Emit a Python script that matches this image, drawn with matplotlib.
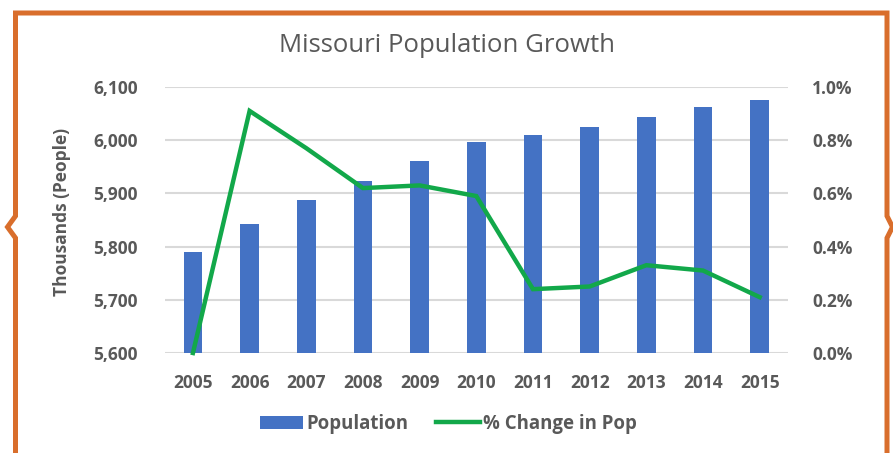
import matplotlib
matplotlib.use("Agg")
import matplotlib.pyplot as plt
from matplotlib.lines import Line2D
from matplotlib.patches import Patch
from matplotlib.ticker import FuncFormatter, FixedLocator

years = ["2005", "2006", "2007", "2008", "2009", "2010",
         "2011", "2012", "2013", "2014", "2015"]
population = [5790, 5842, 5888, 5924, 5961, 5996, 6010, 6024, 6044, 6063, 6076]
pct_change = [0.00, 0.91, 0.77, 0.62, 0.63, 0.59, 0.24, 0.25, 0.33, 0.31, 0.21]
left_ticks = [5600, 5700, 5800, 5900, 6000, 6100]
right_ticks = [0.0, 0.2, 0.4, 0.6, 0.8, 1.0]

BAR = "#4472C4"
GREEN = "#12A84A"
TXT = "#595959"
GRID = "#D9D9D9"
FRAME = "#D96E2C"
FONT = "Open Sans"
TICK_SIZE = 12.5

W, H = 893, 453
fig = plt.figure(figsize=(W / 100, H / 100), dpi=100)
fig.patch.set_facecolor("white")

ax_left, ax_right, ax_top, ax_bottom = 164.6, 788.0, 87.0, 353.0
ax = fig.add_axes([ax_left / W, 1 - ax_bottom / H,
                   (ax_right - ax_left) / W, (ax_bottom - ax_top) / H])
x = list(range(len(years)))
ax.bar(x, population, width=0.33, color=BAR, zorder=2)
ax.set_xlim(-0.5, len(years) - 0.5)
ax.set_ylim(5600, 6100)
ax.yaxis.set_major_locator(FixedLocator(left_ticks))
ax.yaxis.set_major_formatter(FuncFormatter(lambda v, p: f"{int(v):,}"))
ax.set_xticks(x)
ax.set_xticklabels(years)
ax.grid(axis="y", color=GRID, linewidth=1.5, zorder=0)
ax.set_axisbelow(True)
for s in ax.spines.values():
    s.set_visible(False)
ax.tick_params(length=0)
ax.tick_params(axis="y", pad=19.5)
ax.tick_params(axis="x", pad=15)
for lab in ax.get_xticklabels() + ax.get_yticklabels():
    lab.set_fontfamily(FONT)
    lab.set_fontweight("bold")
    lab.set_fontsize(TICK_SIZE)
    lab.set_color(TXT)
ax.set_ylabel("Thousands (People)", fontfamily=FONT, fontweight="bold",
              fontsize=TICK_SIZE, color=TXT)
ax.yaxis.set_label_coords((71 - ax_left) / (ax_right - ax_left), 0.53)

ax2 = ax.twinx()
ax2.plot(x, pct_change, color=GREEN, linewidth=3.2, solid_joinstyle="miter",
         clip_on=False, zorder=3)
ax2.set_ylim(0, 1.0)
ax2.yaxis.set_major_locator(FixedLocator(right_ticks))
ax2.yaxis.set_major_formatter(FuncFormatter(lambda v, p: f"{v:.1f}%"))
for s in ax2.spines.values():
    s.set_visible(False)
ax2.tick_params(length=0, pad=17.5)
for lab in ax2.get_yticklabels():
    lab.set_fontfamily(FONT)
    lab.set_fontweight("bold")
    lab.set_fontsize(TICK_SIZE)
    lab.set_color(TXT)

fig.text(447 / W, 1 - 46 / H, "Missouri Population Growth", ha="center",
         va="center", fontfamily=FONT, fontsize=18.5, color=TXT)

handles = [Patch(facecolor=BAR, edgecolor="none"),
           Line2D([0], [0], color=GREEN, linewidth=3.2)]
leg = fig.legend(handles, ["Population", "% Change in Pop"], loc="center",
                 bbox_to_anchor=(448 / W, 1 - 424 / H), ncol=2, frameon=False,
                 handlelength=2.35, handletextpad=0.15, columnspacing=1.5,
                 prop={"family": FONT, "weight": "bold", "size": 13.4})
for t in leg.get_texts():
    t.set_color(TXT)

# orange callout frame with side notches
def fx(px):
    return px / W

def fy(py):
    return 1 - py / H

xl, xr, yt = 15.5, 887.0, 13.0
frame_x = [xl, xl, 7.5, xl, xl, xr, xr, 892.5, xr, xr]
frame_y = [H + 5, 238, 227, 216, yt, yt, 216, 227, 238, H + 5]
fig.add_artist(Line2D([fx(v) for v in frame_x], [fy(v) for v in frame_y],
                      color=FRAME, linewidth=3.6, solid_joinstyle="miter",
                      transform=fig.transFigure))

fig.savefig("out.png", dpi=100, facecolor="white")
